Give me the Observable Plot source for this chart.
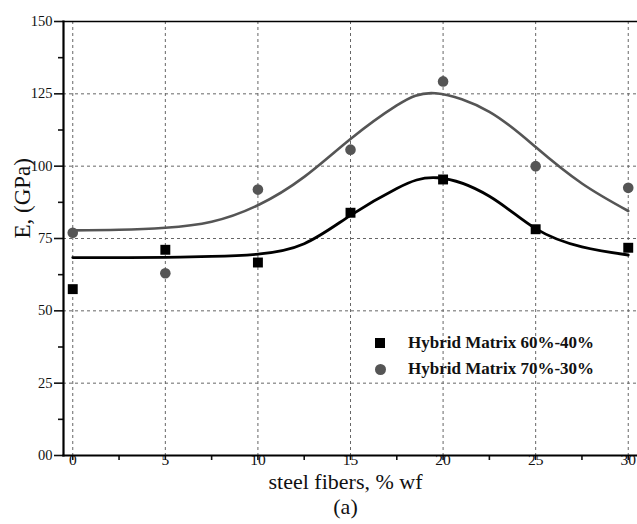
<!DOCTYPE html>
<html>
<head>
<meta charset="utf-8">
<script src="https://cdn.jsdelivr.net/npm/d3@7"></script>
<script src="https://cdn.jsdelivr.net/npm/@observablehq/plot@0.6"></script>
<style>
  html, body { margin: 0; padding: 0; background: #fff; }
  #wrap { position: relative; width: 637px; height: 524px; font-family: "Liberation Serif", "Times New Roman", serif; }
  #legend { position: absolute; left: 373px; top: 330px; font-weight: bold; font-size: 17px; color: #111; }
  #legend .row { display: flex; align-items: center; height: 26px; }
  #legend .sym { width: 35px; display: flex; align-items: center; justify-content: flex-start; padding-left: 2px; box-sizing: border-box; }
  #legend .sq { width: 10px; height: 10px; background: #000; }
  #legend .ci { width: 11px; height: 11px; border-radius: 50%; background: #555; }
</style>
</head>
<body>
<div id="wrap"><div id="legend"></div></div>
<script>
// ---- data ----
const fibers = [0, 5, 10, 15, 20, 25, 30];
const matrix6040 = [57.5, 71.1, 66.7, 83.9, 95.4, 78.2, 71.8];
const matrix7030 = [77.0, 63.0, 91.9, 105.7, 129.3, 100.0, 92.5];

// fitted curves at sample positions
const fitX6040 = [0, 2.5, 5, 7.5, 10, 12.5, 15, 17.5, 19.7, 22.5, 25, 27.5, 30];
const fitY6040 = [68.4, 68.4, 68.5, 68.8, 69.6, 73.2, 83.0, 92.3, 96.0, 89.6, 78.4, 72.1, 69.3];
const fitX7030 = [0, 2.5, 5, 7.5, 10, 12.5, 15, 17.5, 19.6, 22.5, 25, 27.5, 30];
const fitY7030 = [77.8, 78.0, 78.7, 80.8, 86.5, 96.3, 109.4, 121.0, 125.2, 118.8, 106.6, 94.0, 84.5];

const seriesNames = ["Hybrid Matrix 60%-40%", "Hybrid Matrix 70%-30%"];

const xTicks = [0, 5, 10, 15, 20, 25, 30];
const xMinor = [2.5, 7.5, 12.5, 17.5, 22.5, 27.5];
const yTicks = [0, 25, 50, 75, 100, 125, 150];
const yTickLabels = ["00", "25", "50", "75", "100", "125", "150"];
const yMinor = [12.5, 37.5, 62.5, 87.5, 112.5, 137.5];
const yGrid = [25, 50, 75, 100, 125];

const xLabel = "steel fibers, % wf";
const yLabel = "E, (GPa)";
const caption = "(a)";

// ---- build tables ----
const pts6040 = fibers.map((x, i) => ({x, y: matrix6040[i]}));
const pts7030 = fibers.map((x, i) => ({x, y: matrix7030[i]}));
const fit6040 = fitX6040.map((x, i) => ({x, y: fitY6040[i]}));
const fit7030 = fitX7030.map((x, i) => ({x, y: fitY7030[i]}));

const FONT = "Liberation Serif, Times New Roman, serif";
const GRAY = "#555";

const chart = Plot.plot({
  width: 637,
  height: 524,
  marginLeft: 63,
  marginRight: 0,
  marginTop: 21,
  marginBottom: 69,
  style: {fontFamily: FONT, color: "#111", background: "transparent", overflow: "visible"},
  x: {domain: [-0.5, 30.5]},
  y: {domain: [0, 150]},
  marks: [
    Plot.gridX(xTicks, {stroke: "#666", strokeOpacity: 1, strokeDasharray: "3,3", strokeWidth: 1}),
    Plot.gridY(yGrid, {stroke: "#666", strokeOpacity: 1, strokeDasharray: "3,3", strokeWidth: 1}),
    // axes
    Plot.axisY(yTicks, {tickSize: 0, tickPadding: 11, tickFormat: (d, i) => yTickLabels[i], fontSize: 14.5, label: null, style: "letter-spacing:-0.8px"}),
    Plot.axisY(yTicks, {tickSize: 9, text: null, label: null, strokeWidth: 1.6, strokeOpacity: 1}),
    Plot.axisY(yMinor, {tickSize: 5, text: null, label: null, strokeWidth: 1.6, strokeOpacity: 1}),
    Plot.axisX(xTicks, {tickSize: 0, tickPadding: -2, fontSize: 15.5, label: null}),
    Plot.axisX(xTicks, {tickSize: 5, text: null, label: null, strokeWidth: 1.6, strokeOpacity: 1}),
    Plot.axisX(xMinor, {tickSize: 5, text: null, label: null, strokeWidth: 1.6, strokeOpacity: 1}),
    Plot.frame({anchor: "left", stroke: "#000", strokeWidth: 2.2}),
    Plot.frame({anchor: "bottom", stroke: "#000", strokeWidth: 2.2}),
    Plot.frame({anchor: "top", stroke: "#000", strokeWidth: 1.6}),
    // fitted curves
    Plot.line(fit7030, {x: "x", y: "y", stroke: GRAY, strokeWidth: 2.6, curve: "natural"}),
    Plot.line(fit6040, {x: "x", y: "y", stroke: "#000", strokeWidth: 2.8, curve: "natural"}),
    // data points
    Plot.dot(pts7030, {x: "x", y: "y", r: 5.3, fill: GRAY, stroke: "none"}),
    Plot.dot(pts6040, {x: "x", y: "y", r: 5.6, symbol: "square", fill: "#000", stroke: "none"}),
    // titles
    Plot.text([yLabel], {frameAnchor: "left", rotate: -90, dx: -41, fontSize: 23, fill: "#111"}),
    Plot.text([xLabel], {frameAnchor: "bottom", dy: 33, dx: -5, fontSize: 22, fill: "#111"}),
    Plot.text([caption], {frameAnchor: "bottom", dy: 58, dx: -5, fontSize: 22, fill: "#111"})
  ]
});

const wrap = document.getElementById("wrap");
wrap.insertBefore(chart, wrap.firstChild);

const legend = document.getElementById("legend");
[["sq", seriesNames[0]], ["ci", seriesNames[1]]].forEach(([cls, name]) => {
  const row = document.createElement("div");
  row.className = "row";
  row.innerHTML = `<div class="sym"><div class="${cls}"></div></div><div>${name}</div>`;
  legend.appendChild(row);
});
</script>
</body>
</html>
